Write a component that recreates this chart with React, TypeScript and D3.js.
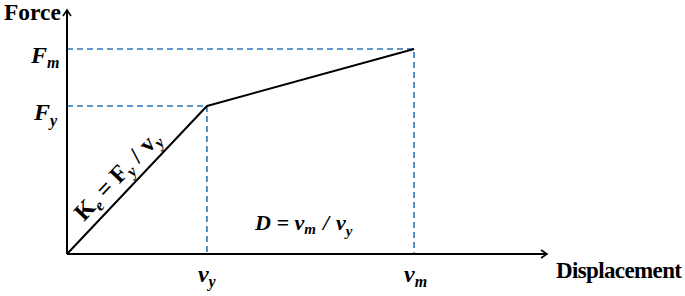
import React from 'react';
import * as d3 from 'd3';

// idealised bilinear force–displacement curve (normalised to yield)
const curveDisp = [0, 1, 2.48];
const curveForce = [0, 1, 1.385];
const dispMax = 3.43;
const forceMax = 1.648;

const W = 685, H = 296;
const origin = { x: 67, y: 254 };
const axisEnd = { x: 547, y: 10 };

const serif = '"Liberation Serif", "Times New Roman", serif';
const blue = '#2e75b6';

const App = () => {
  const x = d3.scaleLinear().domain([0, dispMax]).range([origin.x, axisEnd.x]);
  const y = d3.scaleLinear().domain([0, forceMax]).range([origin.y, axisEnd.y]);

  const pts: [number, number][] = curveDisp.map((d, i) => [x(d), y(curveForce[i])]);
  const line = d3.line();

  const [, yieldPt, maxPt] = pts;
  // angle of the elastic branch for the Ke label
  const ang = (Math.atan2(yieldPt[1] - origin.y, yieldPt[0] - origin.x) * 180) / Math.PI;

  const dash = { stroke: blue, strokeWidth: 1.6, strokeDasharray: '6,4', fill: 'none' };

  return (
    <svg width={W} height={H} style={{ position: 'absolute', left: 0, top: 0 }}>
      <rect width={W} height={H} fill="#fff" />

      {/* guide lines */}
      <path d={line([[origin.x, maxPt[1]], maxPt, [maxPt[0], origin.y]])!} {...dash} />
      <path d={line([[origin.x, yieldPt[1]], yieldPt, [yieldPt[0], origin.y]])!} {...dash} />

      {/* axes */}
      <line x1={origin.x} y1={origin.y} x2={origin.x} y2={axisEnd.y + 1} stroke="#000" strokeWidth={2} />
      <line x1={origin.x} y1={origin.y} x2={axisEnd.x - 1} y2={origin.y} stroke="#000" strokeWidth={2} />
      <path d={`M${origin.x - 4},${axisEnd.y + 6} L${origin.x},${axisEnd.y} L${origin.x + 4},${axisEnd.y + 6}`}
        fill="none" stroke="#000" strokeWidth={1.6} />
      <path d={`M${axisEnd.x - 6},${origin.y - 4} L${axisEnd.x},${origin.y} L${axisEnd.x - 6},${origin.y + 4}`}
        fill="none" stroke="#000" strokeWidth={1.6} />

      {/* curve */}
      <path d={line(pts)!} fill="none" stroke="#000" strokeWidth={2} strokeLinejoin="round" />

      <g fontFamily={serif} fontWeight="bold" fill="#000">
        <text x={4} y={20} fontSize={23.5}>Force</text>
        <text x={556} y={278} fontSize={23} textLength={126}>Displacement</text>

        <text x={31} y={63} fontSize={24} fontStyle="italic">F<tspan fontSize={16} dy={5}>m</tspan></text>
        <text x={34} y={120} fontSize={24} fontStyle="italic">F<tspan fontSize={16} dy={6}>y</tspan></text>

        <text x={yieldPt[0] - 9} y={282} fontSize={24} fontStyle="italic">v<tspan fontSize={16} dy={5}>y</tspan></text>
        <text x={maxPt[0] - 10} y={282} fontSize={24} fontStyle="italic">v<tspan fontSize={16} dy={5}>m</tspan></text>

        <text x={255} y={230} fontSize={22} fontStyle="italic">
          D = v<tspan fontSize={15} dy={4}>m</tspan>
          <tspan dy={-4} dx={7}>/</tspan><tspan dx={7}>v</tspan>
          <tspan fontSize={15} dy={6}>y</tspan>
        </text>

        <text transform={`translate(84,222) rotate(${ang})`} fontSize={24}>
          K<tspan fontSize={16} dy={5} fontStyle="italic">e</tspan><tspan dy={-5}>{' = F'}</tspan><tspan fontSize={16} dy={5} fontStyle="italic">y</tspan>
          <tspan dy={-5} dx={7}>/</tspan><tspan dx={7}>v</tspan><tspan fontSize={16} dy={5} fontStyle="italic">y</tspan>
        </text>
      </g>
    </svg>
  );
};

export default App;
